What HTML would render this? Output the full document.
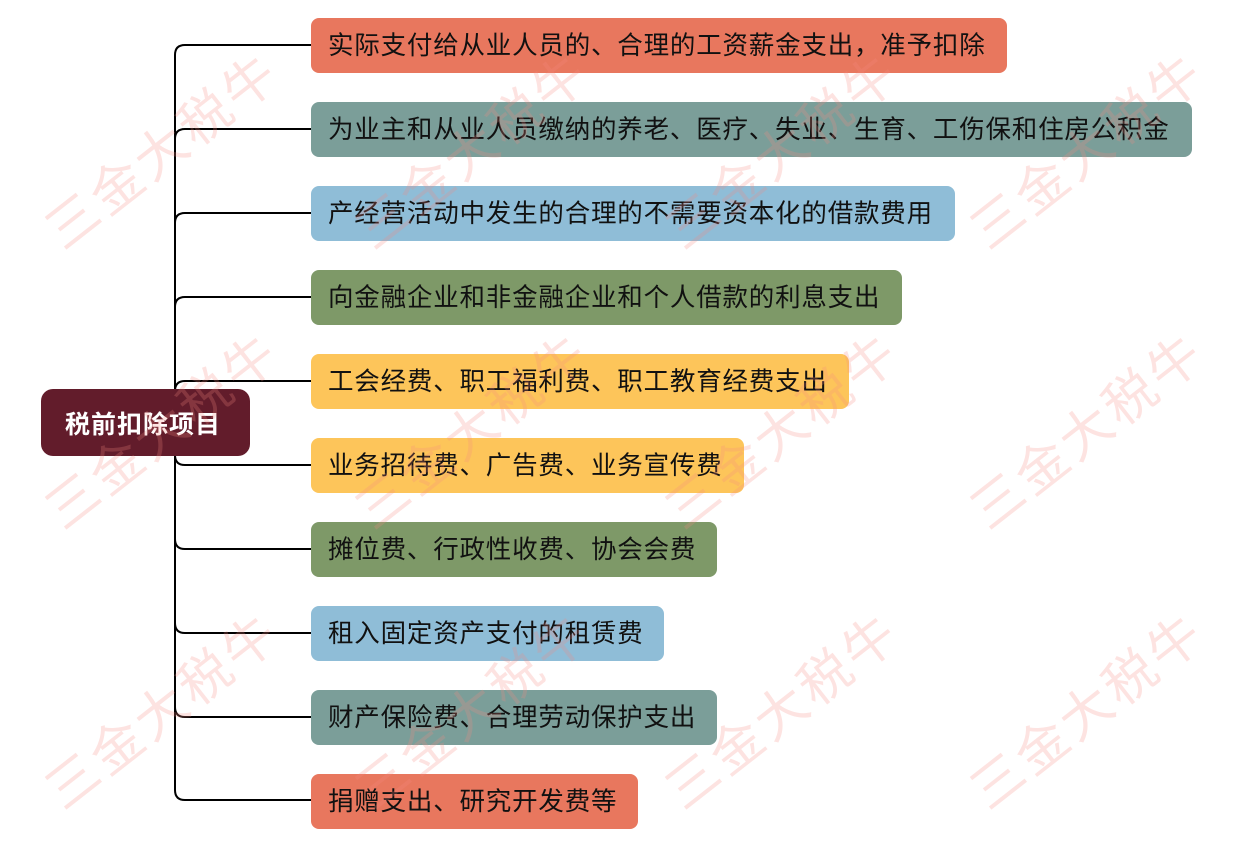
<!DOCTYPE html>
<html><head><meta charset="utf-8"><style>
body{margin:0;width:1240px;height:844px;background:#fff;position:relative;overflow:hidden;font-family:"Liberation Sans","Noto Sans CJK SC",sans-serif}
.b{position:absolute;left:311px;height:55px;border-radius:8px;font-size:25.5px;letter-spacing:0.8px;line-height:57px;padding-left:17px;box-sizing:border-box;color:#111;white-space:nowrap}
.wm{position:absolute;font-size:52px;color:rgba(245,140,130,0.24);transform:rotate(-38deg);transform-origin:center;white-space:nowrap;letter-spacing:4px;z-index:5;pointer-events:none}
</style></head><body>
<svg width="1240" height="844" style="position:absolute;left:0;top:0">
<g fill="none" stroke="#000" stroke-width="2">
<path d="M311 45 H185 Q175 45 175 55 V790 Q175 800 185 800 H311"/>
<path d="M175 139 Q175 129 185 129 H311"/>
<path d="M175 223 Q175 213 185 213 H311"/>
<path d="M175 307 Q175 297 185 297 H311"/>
<path d="M175 391 Q175 381 185 381 H311"/>
<path d="M175 455 Q175 465 185 465 H311"/>
<path d="M175 539 Q175 549 185 549 H311"/>
<path d="M175 623 Q175 633 185 633 H311"/>
<path d="M175 707 Q175 717 185 717 H311"/>
</g></svg>
<div style="position:absolute;left:41px;top:389px;width:209px;height:67px;background:#621c2b;border-radius:12px;color:#fff;font-weight:bold;font-size:25px;letter-spacing:1px;line-height:72px;padding-left:24px;box-sizing:border-box;white-space:nowrap">税前扣除项目</div>
<div class="b" style="top:18px;width:696px;background:#e8775e">实际支付给从业人员的、合理的工资薪金支出，准予扣除</div>
<div class="b" style="top:102px;width:881px;background:#7b9e99">为业主和从业人员缴纳的养老、医疗、失业、生育、工伤保和住房公积金</div>
<div class="b" style="top:186px;width:644px;background:#8fbdd7">产经营活动中发生的合理的不需要资本化的借款费用</div>
<div class="b" style="top:270px;width:591px;background:#7e9968">向金融企业和非金融企业和个人借款的利息支出</div>
<div class="b" style="top:354px;width:538px;background:#fdc55a">工会经费、职工福利费、职工教育经费支出</div>
<div class="b" style="top:438px;width:433px;background:#fdc55a">业务招待费、广告费、业务宣传费</div>
<div class="b" style="top:522px;width:406px;background:#7e9968">摊位费、行政性收费、协会会费</div>
<div class="b" style="top:606px;width:353px;background:#8fbdd7">租入固定资产支付的租赁费</div>
<div class="b" style="top:690px;width:406px;background:#7b9e99">财产保险费、合理劳动保护支出</div>
<div class="b" style="top:774px;width:327px;background:#e8775e">捐赠支出、研究开发费等</div>
<div class="wm" style="left:20px;top:110px">三金大税牛</div>
<div class="wm" style="left:330px;top:110px">三金大税牛</div>
<div class="wm" style="left:640px;top:110px">三金大税牛</div>
<div class="wm" style="left:945px;top:110px">三金大税牛</div>
<div class="wm" style="left:20px;top:390px">三金大税牛</div>
<div class="wm" style="left:330px;top:390px">三金大税牛</div>
<div class="wm" style="left:640px;top:390px">三金大税牛</div>
<div class="wm" style="left:945px;top:390px">三金大税牛</div>
<div class="wm" style="left:20px;top:670px">三金大税牛</div>
<div class="wm" style="left:330px;top:670px">三金大税牛</div>
<div class="wm" style="left:640px;top:670px">三金大税牛</div>
<div class="wm" style="left:945px;top:670px">三金大税牛</div>
</body></html>
